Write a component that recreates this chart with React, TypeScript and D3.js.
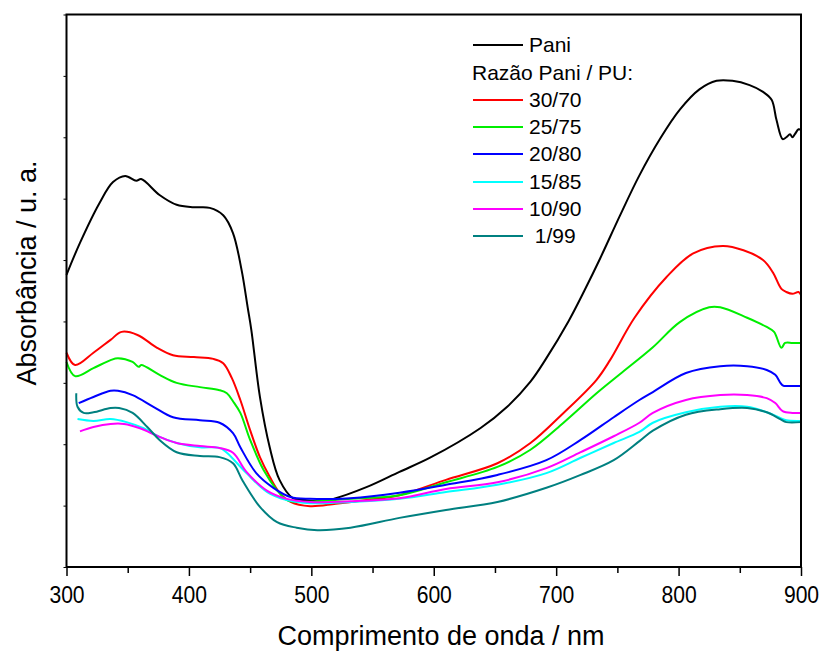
import React, { useRef, useEffect } from 'react';
import * as d3 from 'd3';

// wavelength (nm), absorbance (u. a.)
const pani: [number, number][] = [
  [300, 4.76], [311, 5.28], [327, 5.93], [338, 6.27], [348, 6.37], [357, 6.29], [361, 6.32],
  [376, 6.06], [390, 5.9], [404, 5.86], [417, 5.85], [428, 5.73], [436, 5.44], [443, 4.84],
  [448, 4.23], [451, 3.86], [458, 2.77], [466, 1.95], [474, 1.42], [485, 1.12], [495, 1.09],
  [505, 1.07], [518, 1.11], [545, 1.3], [572, 1.55], [597, 1.78], [638, 2.26], [660, 2.61],
  [679, 3.02], [691, 3.37], [710, 4.0], [723, 4.5], [736, 5.03], [752, 5.72], [768, 6.38],
  [785, 6.98], [801, 7.45], [817, 7.78], [831, 7.92], [844, 7.92], [858, 7.85], [869, 7.74],
  [876, 7.61], [880, 7.28], [885, 6.97], [888, 7.0], [891, 7.05], [893, 7.0], [895, 7.05],
  [898, 7.13], [900, 7.12],
];
const r30: [number, number][] = [
  [300, 3.49], [307, 3.29], [322, 3.49], [336, 3.7], [345, 3.83], [358, 3.78], [374, 3.57],
  [387, 3.45], [404, 3.42], [420, 3.39], [428, 3.32], [435, 3.08], [442, 2.72], [450, 2.23],
  [458, 1.79], [466, 1.47], [474, 1.21], [483, 1.06], [499, 0.99], [520, 1.03], [545, 1.09],
  [572, 1.17], [610, 1.42], [652, 1.69], [679, 2.02], [706, 2.51], [733, 3.05], [744, 3.37],
  [764, 4.06], [790, 4.72], [812, 5.11], [836, 5.23], [853, 5.16], [869, 5.0], [877, 4.8],
  [884, 4.53], [888, 4.48], [893, 4.45], [898, 4.48], [900, 4.43],
];
const r25: [number, number][] = [
  [300, 3.34], [307, 3.11], [322, 3.24], [336, 3.37], [342, 3.4], [354, 3.34], [359, 3.26],
  [361, 3.29], [376, 3.13], [390, 3.0], [409, 2.93], [425, 2.88], [431, 2.83], [436, 2.7],
  [442, 2.51], [450, 2.07], [461, 1.58], [472, 1.25], [480, 1.09], [491, 1.06], [532, 1.11],
  [572, 1.17], [610, 1.38], [652, 1.63], [679, 1.91], [706, 2.35], [733, 2.83], [752, 3.14],
  [779, 3.58], [801, 3.99], [825, 4.23], [834, 4.23], [856, 4.06], [872, 3.91], [878, 3.83],
  [884, 3.57], [887, 3.65], [893, 3.65], [900, 3.65],
];
const r20: [number, number][] = [
  [310, 2.67], [322, 2.77], [336, 2.87], [342, 2.87], [354, 2.8], [371, 2.61], [387, 2.44],
  [409, 2.39], [425, 2.35], [436, 2.18], [442, 1.95], [455, 1.53], [469, 1.29], [483, 1.14],
  [499, 1.11], [532, 1.12], [572, 1.21], [610, 1.34], [652, 1.5], [692, 1.74], [720, 2.07],
  [747, 2.44], [768, 2.72], [779, 2.85], [806, 3.16], [834, 3.27], [856, 3.27], [872, 3.21],
  [879, 3.13], [885, 2.96], [891, 2.95], [900, 2.95],
];
const r15: [number, number][] = [
  [309, 2.41], [322, 2.38], [336, 2.41], [349, 2.36], [363, 2.26], [376, 2.12], [390, 2.02],
  [409, 1.95], [425, 1.94], [431, 1.86], [447, 1.53], [464, 1.22], [480, 1.09], [499, 1.04],
  [532, 1.06], [572, 1.11], [610, 1.22], [652, 1.34], [692, 1.53], [720, 1.78], [747, 2.02],
  [768, 2.2], [779, 2.35], [806, 2.52], [834, 2.61], [856, 2.61], [872, 2.52], [883, 2.43],
  [888, 2.39], [900, 2.38],
];
const r10: [number, number][] = [
  [311, 2.21], [322, 2.28], [336, 2.33], [347, 2.33], [360, 2.26], [376, 2.12], [390, 2.02],
  [409, 1.97], [425, 1.94], [436, 1.86], [447, 1.55], [464, 1.24], [480, 1.11], [499, 1.06],
  [532, 1.07], [572, 1.12], [610, 1.27], [652, 1.38], [692, 1.61], [720, 1.87], [747, 2.13],
  [768, 2.35], [779, 2.51], [806, 2.72], [834, 2.8], [856, 2.8], [872, 2.75], [879, 2.67],
  [885, 2.54], [893, 2.51], [900, 2.51],
];
const r1: [number, number][] = [
  [308, 2.83], [309, 2.61], [314, 2.51], [322, 2.52], [336, 2.59], [343, 2.59], [354, 2.51],
  [366, 2.28], [376, 2.07], [390, 1.87], [409, 1.81], [425, 1.79], [436, 1.69], [444, 1.4],
  [458, 0.98], [472, 0.73], [488, 0.64], [505, 0.6], [532, 0.64], [572, 0.8], [610, 0.93],
  [652, 1.06], [692, 1.29], [720, 1.5], [747, 1.74], [768, 2.05], [779, 2.22], [806, 2.48],
  [834, 2.57], [856, 2.59], [872, 2.52], [883, 2.41], [888, 2.36], [900, 2.36],
];

const seriesNames = ['Pani', '30/70', '25/75', '20/80', '15/85', '10/90', ' 1/99'];
const seriesColors = ['#000000', '#ff0000', '#00ee00', '#0000ff', '#00ffff', '#ff00ff', '#008080'];
const seriesData = [pani, r30, r25, r20, r15, r10, r1];
const xTicks = [300, 400, 500, 600, 700, 800, 900];

const App = () => {
  const svgRef = useRef<SVGSVGElement>(null);

  useEffect(() => {
    const svg = d3.select(svgRef.current);
    svg.selectAll('*').remove();

    const width = 820;
    const height = 652;
    const margin = { top: 14.5, right: 19, bottom: 85, left: 66.5 };
    const font = 'Liberation Sans, Arial, sans-serif';

    const x = d3.scaleLinear().domain([300, 900]).range([margin.left, width - margin.right]);
    const y = d3.scaleLinear().domain([0, 9]).range([height - margin.bottom, margin.top]);

    const line = d3.line<[number, number]>()
      .x(d => x(d[0]))
      .y(d => y(d[1]))
      .curve(d3.curveCatmullRom.alpha(0.5));

    const plot = svg.append('g');
    seriesData.forEach((s, i) => {
      plot.append('path')
        .datum(s)
        .attr('d', line)
        .attr('fill', 'none')
        .attr('stroke', seriesColors[i])
        .attr('stroke-width', 2)
        .attr('stroke-linejoin', 'round');
    });

    // minor x ticks
    const xAxisMinor = d3.axisBottom(x).tickValues(d3.range(350, 900, 100)).tickSize(6).tickFormat(() => '');
    svg.append('g').attr('transform', `translate(0,${y(0)})`).call(xAxisMinor)
      .call(g => g.select('.domain').remove())
      .selectAll('line').attr('stroke-width', 1.5);

    const xAxis = d3.axisBottom(x).tickValues(xTicks).tickSize(9).tickPadding(10).tickFormat(d3.format('d'));
    const xg = svg.append('g').attr('transform', `translate(0,${y(0)})`).call(xAxis);
    xg.select('.domain').remove();
    xg.selectAll('line').attr('stroke-width', 1.5);
    xg.selectAll('text')
      .style('font-family', font)
      .style('font-size', '24px')
      .attr('fill', '#000')
      .attr('transform', 'scale(0.88,1)');

    const yAxis = d3.axisLeft(y).ticks(9).tickSize(3).tickFormat(() => '');
    const yg = svg.append('g').attr('transform', `translate(${x(300)},0)`).call(yAxis);
    yg.select('.domain').remove();
    yg.selectAll('line').attr('stroke-width', 1);

    // frame
    svg.append('rect')
      .attr('x', x(300)).attr('y', y(9))
      .attr('width', x(900) - x(300)).attr('height', y(0) - y(9))
      .attr('fill', 'none').attr('stroke', '#000').attr('stroke-width', 2);

    // axis titles
    svg.append('text')
      .attr('transform', `translate(441,645)`)
      .attr('text-anchor', 'middle')
      .style('font-family', font).style('font-size', '27px')
      .text('Comprimento de onda / nm');
    svg.append('text')
      .attr('transform', `translate(36,273) rotate(-90)`)
      .attr('text-anchor', 'middle')
      .style('font-family', font).style('font-size', '27px')
      .text('Absorbância / u. a.');

    // legend
    const legend = svg.append('g').style('font-family', font).style('font-size', '21px');
    const rowY = [45, 100, 127, 154, 182, 209, 236];
    seriesNames.forEach((name, i) => {
      legend.append('line')
        .attr('x1', 473).attr('x2', 523).attr('y1', rowY[i]).attr('y2', rowY[i])
        .attr('stroke', seriesColors[i]).attr('stroke-width', 2);
      legend.append('text')
        .attr('x', 529).attr('y', rowY[i]).attr('dy', '0.35em')
        .style('white-space', 'pre')
        .text(name);
    });
    legend.append('text')
      .attr('x', 472).attr('y', 73).attr('dy', '0.35em')
      .text('Razão Pani / PU:');
  }, []);

  return (
    <svg ref={svgRef} width={820} height={652} style={{ position: 'absolute', left: 0, top: 0, display: 'block', background: '#fff' }} />
  );
};

export default App;
